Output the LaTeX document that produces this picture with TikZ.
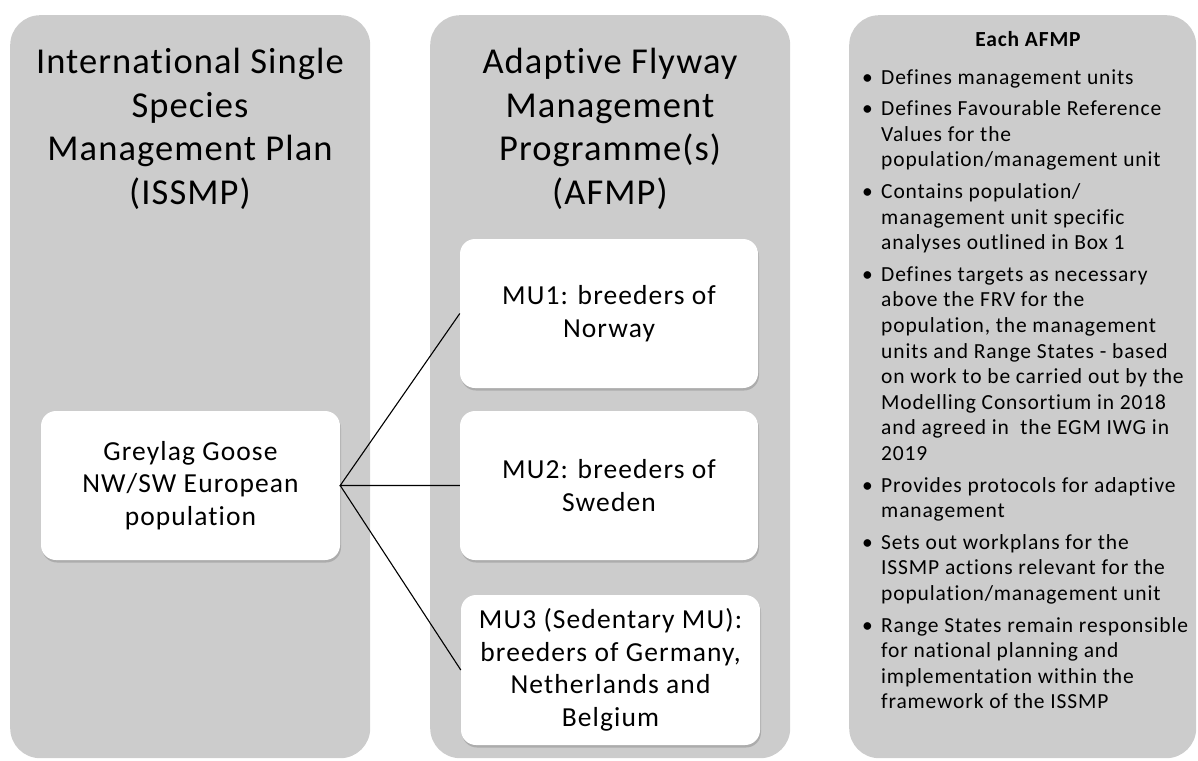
\documentclass[tikz,border=0pt]{standalone}
\usepackage{fontspec}
\setmainfont{Carlito}[Ligatures=NoCommon]
\newfontfamily\ttlfont{Carlito}[Ligatures=NoCommon, LetterSpace=3]
\newfontfamily\boxfont{Carlito}[Ligatures=NoCommon, LetterSpace=4]
\usetikzlibrary{shadows}
\definecolor{panelgrey}{HTML}{CCCCCC}
\begin{document}
\begin{tikzpicture}[x=1pt,y=-1pt,
  panel/.style={fill=panelgrey, rounded corners=30pt, inner sep=0pt, anchor=north west},
  inbox/.style={fill=white, rounded corners=15pt, inner sep=0pt, align=center,
    font=\boxfont\fontsize{27.5}{32.5}\selectfont,
    drop shadow={opacity=0.35, shadow xshift=1pt, shadow yshift=-2.5pt, fill=black!55}},
  ttl/.style={align=center, font=\ttlfont\fontsize{36.5}{43.5}\selectfont, inner sep=0pt},
  link/.style={draw=black, line width=1.1pt}]
\useasboundingbox (0,0) rectangle (1198,760);
% panels
\node[panel, minimum width=360pt, minimum height=743pt] (pL) at (10,15) {};
\node[panel, minimum width=360pt, minimum height=743pt] (pM) at (430,15) {};
\node[panel, minimum width=347pt, minimum height=743pt] (pR) at (849,15) {};
% titles
\node[ttl] (tL) at (190,129) {International Single\\Species\\Management Plan\\(ISSMP)};
\node[ttl] (tM) at (610,129) {Adaptive Flyway\\Management\\Programme(s)\\(AFMP)};
% boxes
\node[inbox, minimum width=299pt, minimum height=149pt] (grey) at (190.5,485.5) {Greylag Goose\\NW/SW European\\population};
\node[inbox, minimum width=298pt, minimum height=149pt] (mu1) at (609,313.5) {MU1: breeders of\\Norway};
\node[inbox, minimum width=298pt, minimum height=149pt] (mu2) at (609,485.5) {MU2: breeders of\\Sweden};
\node[inbox, minimum width=299pt, minimum height=150pt] (mu3) at (610.5,670) {MU3 (Sedentary MU):\\breeders of Germany,\\Netherlands and\\Belgium};
% connectors
\draw[link] (mu1.west) -- (grey.east) -- (mu2.west);
\draw[link] (grey.east) -- (mu3.west);
% right panel
\node[font=\boxfont\bfseries\fontsize{21.5}{25.6}\selectfont, anchor=base, inner sep=0pt] (head) at (1028,47) {Each AFMP};
\node[anchor=base west, inner sep=0pt, font=\boxfont\fontsize{21.5}{25.6}\selectfont] (list) at (862,84) {%
\begin{tabular}[t]{@{}l@{}l@{}}
\makebox[19pt][l]{\textbullet} & Defines management units\\[6pt]
\textbullet & Defines Favourable Reference\\
 & Values for the\\
 & population/management unit\\[6pt]
\textbullet & Contains population/\\
 & management unit specific\\
 & analyses outlined in Box 1\\[6pt]
\textbullet & Defines targets as necessary\\
 & above the FRV for the\\
 & population, the management\\
 & units and Range States - based\\
 & on work to be carried out by the\\
 & Modelling Consortium in 2018\\
 & and agreed in~ the EGM IWG in\\
 & 2019\\[6pt]
\textbullet & Provides protocols for adaptive\\
 & management\\[6pt]
\textbullet & Sets out workplans for the\\
 & ISSMP actions relevant for the\\
 & population/management unit\\[6pt]
\textbullet & Range States remain responsible\\
 & for national planning and\\
 & implementation within the\\
 & framework of the ISSMP
\end{tabular}};
\end{tikzpicture}
\end{document}
